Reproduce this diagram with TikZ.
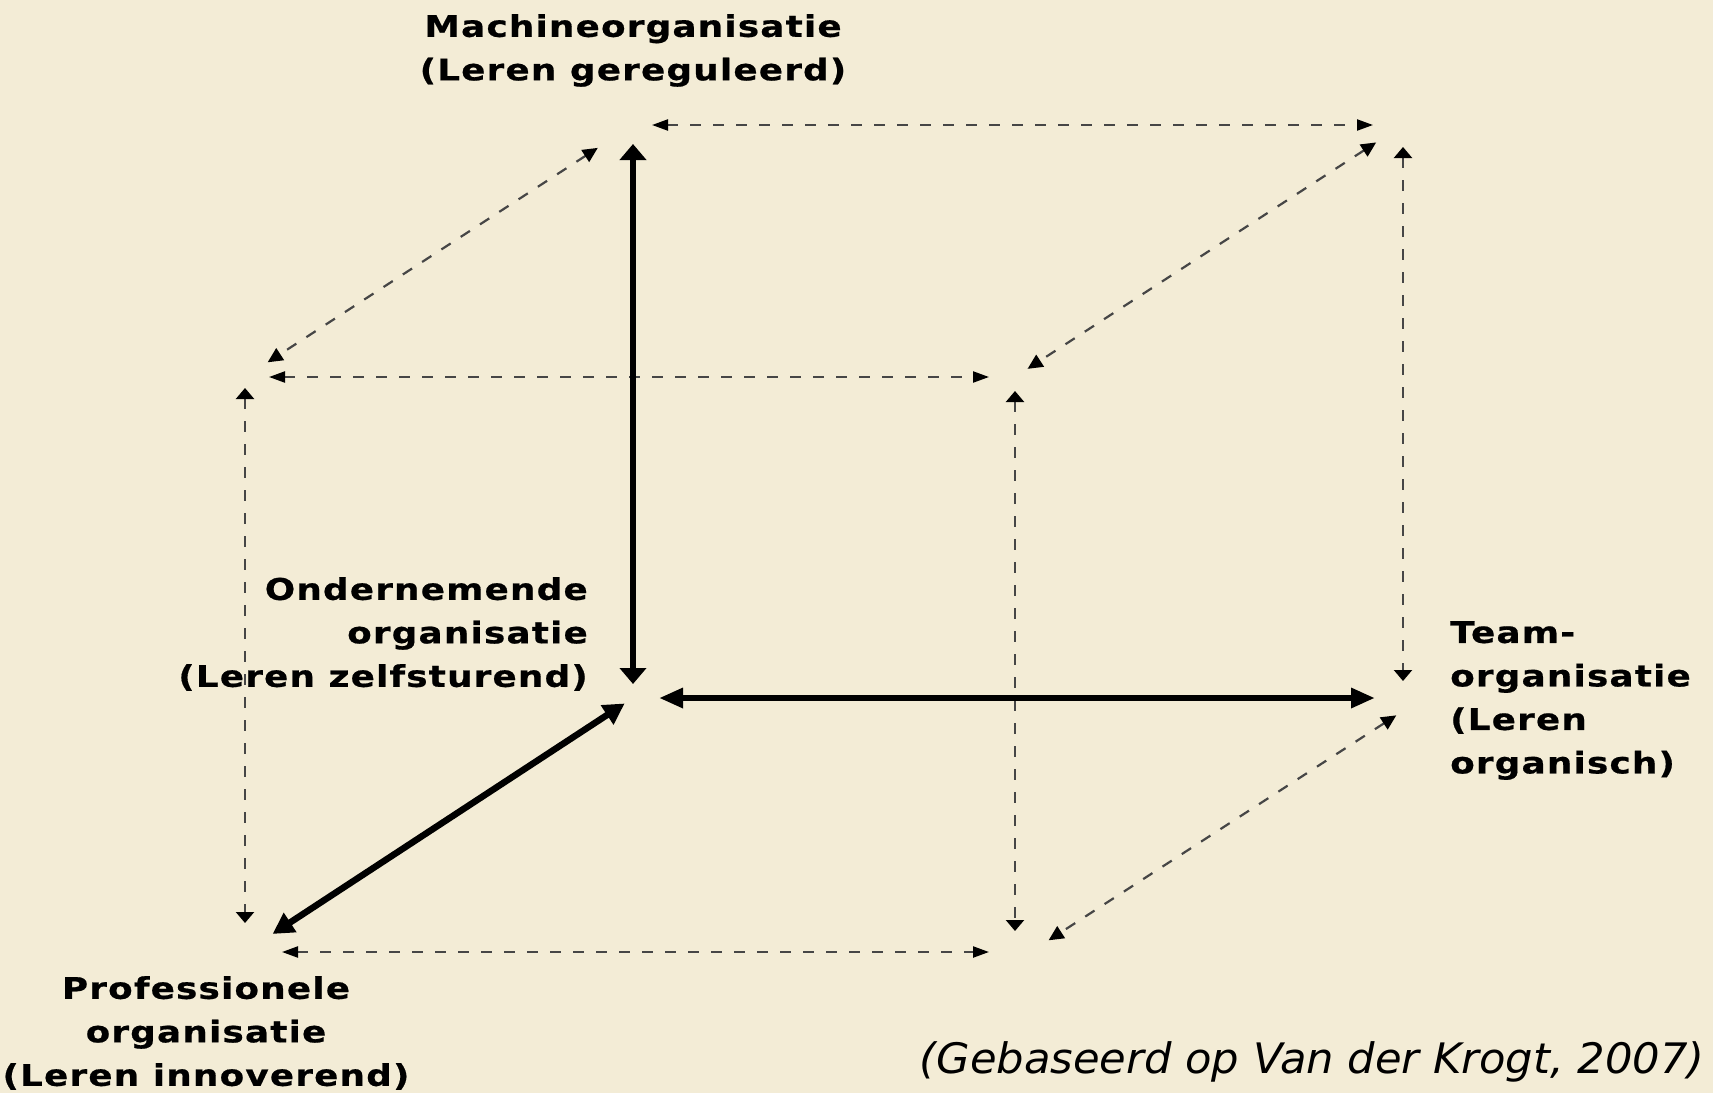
\documentclass[tikz,border=0pt]{standalone}
\usepackage{fontspec}
\setmainfont{DejaVu Sans}
\newfontfamily\labelfont{DejaVu Sans}[FakeStretch=1.2,LetterSpace=4,FakeBold=0.6]
\newfontfamily\sourcefont{DejaVu Sans}[FakeStretch=1.03]
\usetikzlibrary{arrows.meta}
\definecolor{cream_bg}{RGB}{243,236,214}
\definecolor{dash_grey}{RGB}{70,70,70}

\begin{document}
\begin{tikzpicture}[x=1pt, y=-1pt,
    label_text/.style={font=\labelfont\bfseries\fontsize{29.8}{43.5}\selectfont, inner sep=0pt},
    dash_line/.style={draw=dash_grey, line width=2.2pt, dash pattern=on 11pt off 12pt},
    dash_h/.style={dash_line, arrows={Triangle[length=16pt,width=11pt,black]-Triangle[length=16pt,width=11pt,black]}},
    dash_v/.style={dash_line, arrows={Triangle[length=11pt,width=18pt,black]-Triangle[length=11pt,width=18pt,black]}},
    dash_d/.style={dash_line, arrows={Triangle[length=15pt,width=14pt,black]-Triangle[length=15pt,width=14pt,black]}},
    thick_line/.style={draw=black, line width=6.5pt}]

    \useasboundingbox (0,0) rectangle (1713,1093);
    \fill[cream_bg] (0,0) rectangle (1713,1093);

    % --- Begin cube corners ---
    \coordinate (machine) at (633,125);
    \coordinate (top_right) at (1403,125);
    \coordinate (front_top_left) at (245,377);
    \coordinate (front_top_right) at (1015,377);
    \coordinate (origin) at (633,698);
    \coordinate (team) at (1403,698);
    \coordinate (professional) at (245,952);
    \coordinate (front_bottom_right) at (1015,952);
    % --- End cube corners ---

    % --- Begin labels ---
    \node [label_text, align=center, anchor=north] (machine_label) at (633,14) {Machineorganisatie\\(Leren gereguleerd)};
    \node [label_text, align=right, anchor=north east] (entrepreneur_label) at (588,577) {Ondernemende\\organisatie\\(Leren zelfsturend)};
    \node [label_text, align=left, anchor=north west] (team_label) at (1450,621) {Team-\\organisatie\\(Leren\\organisch)};
    \node [label_text, align=center, anchor=north] (professional_label) at (206,976) {Professionele\\organisatie\\(Leren innoverend)};
    \node [font=\sourcefont\itshape\fontsize{42}{50}\selectfont, inner sep=0pt, anchor=base east] (source_label) at (1705,1073) {(Gebaseerd op Van der Krogt, 2007)};
    % --- End labels ---

    % Dashed edges of the cube.
    \draw[dash_h, shorten <=19pt, shorten >=30pt] (machine) -- (top_right);
    \draw[dash_d, shorten <=42pt, shorten >=27pt] (machine) -- (front_top_left);
    \draw[dash_d, shorten <=32pt, shorten >=15pt] (top_right) -- (front_top_right);
    \draw[dash_v, shorten <=22pt, shorten >=17pt] (top_right) -- (team);
    \draw[dash_h, shorten <=24pt, shorten >=26pt] (front_top_left) -- (front_top_right);
    \draw[dash_v, shorten <=11pt, shorten >=29pt] (front_top_left) -- (professional);
    \draw[dash_v, shorten <=14pt, shorten >=21pt] (front_top_right) -- (front_bottom_right);
    \draw[dash_h, shorten <=37pt, shorten >=26pt] (professional) -- (front_bottom_right);
    \draw[dash_d, shorten <=8pt, shorten >=40pt] ([yshift=-13pt]team) -- ([yshift=-10pt]front_bottom_right);

    % Solid axes from the origin.
    \draw[thick_line, arrows={Triangle[length=16pt,width=26pt]-Triangle[length=16pt,width=26pt]}, shorten <=19pt, shorten >=14pt] (machine) -- (origin);
    \draw[thick_line, arrows={Triangle[length=24pt,width=19pt]-Triangle[length=24pt,width=19pt]}, shorten <=26pt, shorten >=28pt] (origin) -- (team);
    \draw[thick_line, arrows={Triangle[length=21pt,width=22pt]-Triangle[length=21pt,width=22pt]}, shorten <=10pt, shorten >=33pt] (origin) -- (professional);

\end{tikzpicture}
\end{document}
